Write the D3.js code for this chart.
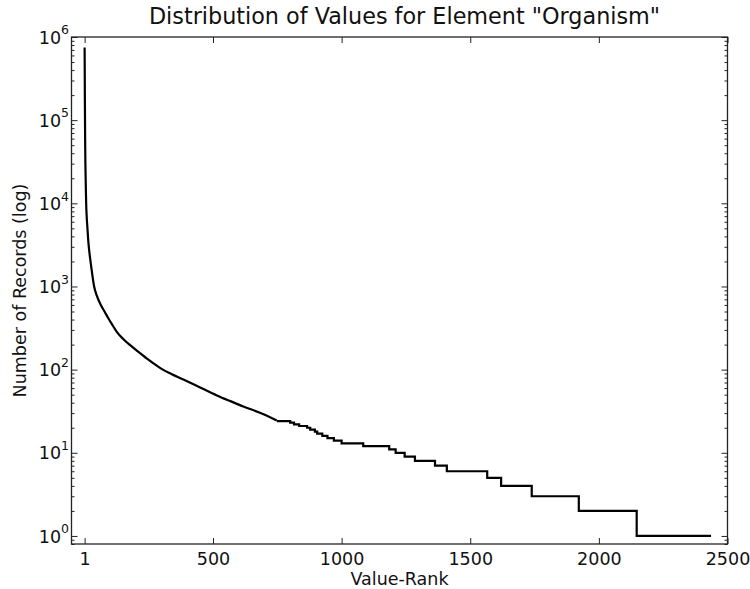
<!DOCTYPE html>
<html>
<head>
<meta charset="utf-8">
<script src="https://cdn.jsdelivr.net/npm/d3@7/dist/d3.min.js"></script>
<style>
  html, body { margin: 0; padding: 0; background: #fff; }
  svg { display: block; }
  text { font-family: "DejaVu Sans", sans-serif; fill: #111; }
</style>
</head>
<body>
<svg id="chart" width="750" height="589"></svg>
<script>
// ---- Data ----
const titleText = 'Distribution of Values for Element "Organism"';
const xLabel = "Value-Rank";
const yLabel = "Number of Records (log)";

// Head of the distribution (rank, count) — smooth, steep part
const headRanks  = [1, 2, 3, 4, 5, 6, 7, 9, 12, 16, 20, 25, 30, 38, 48, 64, 80, 92, 110, 126, 150, 184, 210, 242, 270, 300, 340, 385, 450, 515, 570, 618, 680, 720, 748];
const headCounts = [750000, 180000, 60000, 30000, 20000, 14000, 10000, 7000, 5000, 3300, 2500, 1900, 1450, 1000, 780, 600, 490, 420, 340, 285, 235, 190, 163, 137, 118, 102, 88, 76, 61, 49, 41.5, 36, 30.5, 27, 24.5];

// Tail of the distribution: rank where each integer count starts
const tailStartRanks = [748, 800, 815, 835, 866, 878, 896, 905, 925, 945, 970, 1000, 1084, 1185, 1210, 1245, 1285, 1363, 1409, 1566, 1620, 1739, 1922, 2147];
const tailCounts     = [24, 23, 22, 21, 20, 19, 18, 17, 16, 15, 14, 13, 12, 11, 10, 9, 8, 7, 6, 5, 4, 3, 2, 1];
const lastRank = 2436;

// Axis ticks
const xTicks = [1, 500, 1000, 1500, 2000, 2500];
const yTickExps = [0, 1, 2, 3, 4, 5, 6];
const xDomain = [-50, 2500];
const yDomain = [0.8, 1e6];

// ---- Layout ----
const mLeft = 71.5, mRight = 727.5, mTop = 37, mBottom = 544;
const svg = d3.select("#chart");
svg.append("rect").attr("width", 750).attr("height", 589).attr("fill", "#fff");

const x = d3.scaleLinear().domain(xDomain).range([mLeft, mRight]);
const y = d3.scaleLog().domain(yDomain).range([mBottom, mTop]);

const tickFont = 17.5;
const axisColor = "#222";

// ---- Line ----
const head = headRanks.map((r, i) => ({ r, v: headCounts[i] }));
const tail = tailStartRanks.map((r, i) => ({ r, v: tailCounts[i] }));
tail.push({ r: lastRank, v: tailCounts[tailCounts.length - 1] });

const lineLin = d3.line().x(d => x(d.r)).y(d => y(d.v)).curve(d3.curveMonotoneX);
const lineStep = d3.line().x(d => x(d.r)).y(d => y(d.v)).curve(d3.curveStepAfter);

const plotG = svg.append("g");
plotG.append("path").datum(head).attr("d", lineLin)
  .attr("fill", "none").attr("stroke", "#000").attr("stroke-width", 2.2)
  .attr("stroke-linejoin", "round").attr("stroke-linecap", "butt");
plotG.append("path").datum(tail).attr("d", lineStep)
  .attr("fill", "none").attr("stroke", "#000").attr("stroke-width", 2.2)
  .attr("stroke-linejoin", "miter").attr("stroke-linecap", "butt");

// ---- Axes (ticks inward, on all four sides) ----
function styleAxis(g) {
  g.select(".domain").remove();
  g.selectAll(".tick line").attr("stroke", axisColor).attr("stroke-width", 1);
}

// bottom
const xAxisB = d3.axisBottom(x).tickValues(xTicks).tickSizeInner(-6).tickSizeOuter(0)
  .tickPadding(0).tickFormat(d3.format("d"));
const gxb = svg.append("g").attr("transform", `translate(0,${mBottom})`).call(xAxisB);
styleAxis(gxb);
gxb.selectAll(".tick text").attr("font-size", tickFont).attr("font-family", "DejaVu Sans")
  .attr("dy", null).attr("y", 21).attr("fill", "#111");

// top
const xAxisT = d3.axisTop(x).tickValues(xTicks).tickSizeInner(-6).tickSizeOuter(0).tickFormat("");
const gxt = svg.append("g").attr("transform", `translate(0,${mTop})`).call(xAxisT);
styleAxis(gxt);

// y minor ticks
const minorVals = [];
for (let e = -1; e <= 5; e++) for (let m = 2; m <= 9; m++) {
  const v = m * Math.pow(10, e);
  if (v >= yDomain[0] && v <= yDomain[1]) minorVals.push(v);
}
const majorVals = yTickExps.map(e => Math.pow(10, e));

const yAxisL = d3.axisLeft(y).tickValues(majorVals).tickSizeInner(-6).tickSizeOuter(0).tickFormat("");
const gyl = svg.append("g").attr("transform", `translate(${mLeft},0)`).call(yAxisL);
styleAxis(gyl);
const yAxisLm = d3.axisLeft(y).tickValues(minorVals).tickSizeInner(-3).tickSizeOuter(0).tickFormat("");
const gylm = svg.append("g").attr("transform", `translate(${mLeft},0)`).call(yAxisLm);
styleAxis(gylm);

const yAxisR = d3.axisRight(y).tickValues(majorVals).tickSizeInner(-6).tickSizeOuter(0).tickFormat("");
const gyr = svg.append("g").attr("transform", `translate(${mRight},0)`).call(yAxisR);
styleAxis(gyr);
const yAxisRm = d3.axisRight(y).tickValues(minorVals).tickSizeInner(-3).tickSizeOuter(0).tickFormat("");
const gyrm = svg.append("g").attr("transform", `translate(${mRight},0)`).call(yAxisRm);
styleAxis(gyrm);

// y tick labels 10^n
const yLab = svg.append("g");
yTickExps.forEach(e => {
  const t = yLab.append("text")
    .attr("x", 69).attr("y", y(Math.pow(10, e)) + 6.7)
    .attr("text-anchor", "end").attr("font-size", tickFont);
  t.append("tspan").text("10");
  t.append("tspan").attr("dy", -9.5).attr("font-size", 12.5).text(String(e));
});

// spines
svg.append("rect").attr("x", mLeft).attr("y", mTop)
  .attr("width", mRight - mLeft).attr("height", mBottom - mTop)
  .attr("fill", "none").attr("stroke", axisColor).attr("stroke-width", 1.3);

// ---- Titles ----
svg.append("text").attr("x", (mLeft + mRight) / 2 + 5).attr("y", 24)
  .attr("text-anchor", "middle").attr("font-size", 22.3).text(titleText);
svg.append("text").attr("x", (mLeft + mRight) / 2).attr("y", 585)
  .attr("text-anchor", "middle").attr("font-size", tickFont).text(xLabel);
svg.append("text").attr("transform", `translate(26,${(mTop + mBottom) / 2}) rotate(-90)`)
  .attr("text-anchor", "middle").attr("font-size", tickFont).text(yLabel);
</script>
</body>
</html>
